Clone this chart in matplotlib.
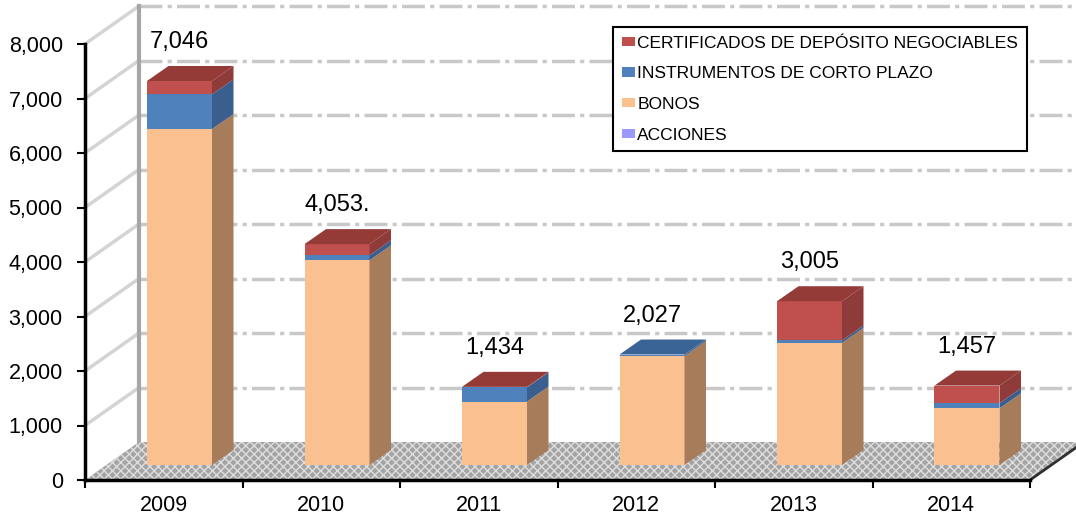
import matplotlib
matplotlib.use('Agg')
import matplotlib.pyplot as plt
from matplotlib.patches import Polygon, Patch
import numpy as np

# ---------------- data ----------------
years = ['2009', '2010', '2011', '2012', '2013', '2014']
acciones = [0, 0, 0, 0, 0, 0]
bonos = [6164, 3755, 1164, 2000, 2240, 1040]
instrumentos = [637, 92, 260, 27, 45, 95]
certificados = [245, 206, 10, 0, 720, 322]
total_labels = ['7,046', '4,053.', '1,434', '2,027', '3,005', '1,457']
series_names = ['ACCIONES', 'BONOS', 'INSTRUMENTOS DE CORTO PLAZO',
                'CERTIFICADOS DE DEPÓSITO NEGOCIABLES']
y_ticks = [0, 1000, 2000, 3000, 4000, 5000, 6000, 7000, 8000]

# ---------------- style ----------------
plt.rcParams['font.family'] = ['Liberation Sans', 'DejaVu Sans']
front_cols = ['#9999FF', '#FAC090', '#4F81BD', '#C0504D']
side_cols = ['#6B6BB3', '#A77C5A', '#3A5F8F', '#8E3B39']
top_cols = ['#7A7AD0', '#FCD5B4', '#3B6496', '#943A37']

W, H = 1076, 515
fig = plt.figure(figsize=(W / 100, H / 100), dpi=100)
L, R, B, T = 85, 1030, 480, 44
ax = fig.add_axes([L / W, 1 - B / H, (R - L) / W, (B - T) / H])
ax.set_xlim(-0.5, 5.5)
ax.set_ylim(0, 8000)
xpx = (R - L) / 6.0
ypx = (B - T) / 8000.0


def dx(p):
    return p / xpx


def dy(p):
    return p / ypx


# walls / floor depth
DXw, DYw = dx(54), dy(38)
x0, x1 = -0.5, 5.5

# floor
floor = Polygon([(x0, 0), (x1, 0), (x1 + DXw, DYw), (x0 + DXw, DYw)],
                closed=True, facecolor='#a4a4a4', edgecolor='#dedede',
                hatch='xxxx', linewidth=0, zorder=1.5, clip_on=False)
ax.add_patch(floor)
ax.plot([x1, x1 + DXw], [0, DYw], color='#303030', lw=2, zorder=1.6,
        clip_on=False, solid_capstyle='butt')

# left wall diagonals
for v in y_ticks[1:]:
    ax.plot([x0, x0 + DXw], [v, v + DYw], color='#d4d4d4', lw=2.5,
            zorder=1, clip_on=False)
# back wall vertical edge
ax.plot([x0 + DXw, x0 + DXw], [DYw, 8000 + DYw], color='#a6a6a6', lw=3,
        zorder=1.2, clip_on=False)
# back wall gridlines
for v in y_ticks[1:]:
    ax.plot([x0 + DXw, x1 + DXw], [v + DYw, v + DYw], color='#c8c8c8',
            lw=2.5, ls=(0, (6.6, 1.5, 1.2, 1.5)), zorder=1, clip_on=False)

# bars
fx, fy = dx(15.75), dy(15)
bw = dx(65)
ddx, ddy = dx(21.5), dy(15)
xs = np.arange(len(years))
stack = [acciones, bonos, instrumentos, certificados]
bottom = np.zeros(len(years))
tops_color = [None] * len(years)
for k, vals in enumerate(stack):
    vals = np.array(vals, dtype=float)
    ax.bar(xs + fx, vals, width=bw, bottom=bottom + fy, align='center',
           color=front_cols[k], linewidth=0, zorder=3)
    for i in range(len(years)):
        if vals[i] <= 0:
            continue
        xr = xs[i] + fx + bw / 2
        b = bottom[i] + fy
        t = b + vals[i]
        ax.add_patch(Polygon([(xr, b), (xr, t), (xr + ddx, t + ddy),
                              (xr + ddx, b + ddy)], closed=True,
                             facecolor=side_cols[k], linewidth=0, zorder=3))
        tops_color[i] = top_cols[k]
    bottom = bottom + vals

for i in range(len(years)):
    xl = xs[i] + fx - bw / 2
    xr = xl + bw
    t = bottom[i] + fy
    ax.add_patch(Polygon([(xl, t), (xr, t), (xr + ddx, t + ddy),
                          (xl + ddx, t + ddy)], closed=True,
                         facecolor=tops_color[i], linewidth=0, zorder=3.1))
    ax.annotate(total_labels[i], (xl + bw / 2, t), xytext=(0, 28),
                textcoords='offset points', ha='center', va='center',
                fontsize=17, zorder=5, annotation_clip=False)

# axes styling
for s in ['top', 'right']:
    ax.spines[s].set_visible(False)
for s in ['left', 'bottom']:
    ax.spines[s].set_linewidth(2.5)
    ax.spines[s].set_color('black')
    ax.spines[s].set_zorder(4)
ax.set_yticks(y_ticks)
ax.set_yticklabels([f'{v:,}' for v in y_ticks])
ax.tick_params(axis='y', direction='out', length=6, width=1.5, pad=10,
               labelsize=15.5)
ax.set_xticks(np.arange(-0.5, 6, 1.0))
ax.set_xticklabels([''] * 7)
ax.set_xticks(xs, minor=True)
ax.set_xticklabels(years, minor=True)
ax.tick_params(axis='x', which='major', direction='out', length=6, width=1.5)
ax.tick_params(axis='x', which='minor', length=0, pad=11, labelsize=15.5)
ax.patch.set_visible(False)

# legend
order = [3, 2, 1, 0]
handles = [Patch(facecolor=front_cols[k], edgecolor='none') for k in order]
labels = [series_names[k] for k in order]
leg = fig.legend(handles, labels, loc='upper left',
                 bbox_to_anchor=(613 / W, 1 - 27 / H), frameon=True,
                 fancybox=False, edgecolor='black', framealpha=1,
                 fontsize=12.5, handlelength=0.75, handleheight=0.46,
                 handletextpad=0.15, labelspacing=0.9, borderaxespad=0,
                 borderpad=0.5)
leg.get_frame().set_linewidth(1.5)
leg.set_zorder(10)

fig.savefig('out.png', dpi=100)
